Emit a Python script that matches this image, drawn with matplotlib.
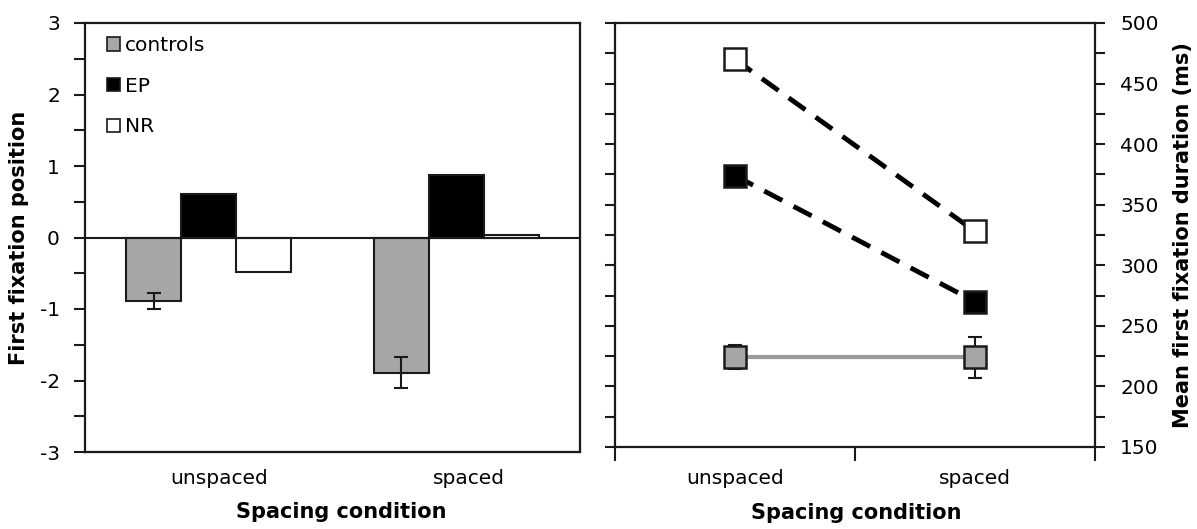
import matplotlib
matplotlib.use("Agg")
import matplotlib.pyplot as plt
from matplotlib.patches import Patch
from matplotlib.ticker import MultipleLocator, FixedLocator, NullFormatter

plt.rcParams["font.family"] = ["DejaVu Sans"]

# ---- data -------------------------------------------------------------
categories = ["unspaced", "spaced"]
groups = ["controls", "EP", "NR"]

# first fixation position (letters)
position_controls = [-0.89, -1.89]
position_controls_err = [0.11, 0.22]
position_ep = [0.61, 0.88]
position_nr = [-0.48, 0.04]

# mean first fixation duration (ms)
duration_controls = [224, 224]
duration_controls_err = [10, 17]
duration_ep = [374, 270]
duration_nr = [470, 328]

# ---- style --------------------------------------------------------------
GREY = "#a6a6a6"
LINE_GREY = "#9a9a9a"
INK = "#1a1a1a"
TICK_FS = 14.5
LABEL_FS = 15

W, H = 1197, 529
fig = plt.figure(figsize=(W / 100, H / 100), dpi=100)
ax1 = fig.add_axes([85 / W, 1 - 452 / H, 495 / W, 429 / H])
ax2 = fig.add_axes([615 / W, 1 - 447 / H, 480 / W, 424 / H])

for ax in (ax1, ax2):
    for s in ax.spines.values():
        s.set_linewidth(1.6)
        s.set_color(INK)

# ---- left panel: grouped bars ------------------------------------------
bar_w = 0.222
centers = [0.5, 1.5]
fills = [GREY, "black", "white"]
series = [position_controls, position_ep, position_nr]
for k, (vals, fc) in enumerate(zip(series, fills)):
    xs = [c + (k - 1) * bar_w for c in centers]
    ax1.bar(xs, vals, width=bar_w, color=fc, edgecolor=INK, linewidth=1.5,
            zorder=2)
ctrl_x = [c - bar_w for c in centers]
ax1.errorbar(ctrl_x, position_controls, yerr=position_controls_err,
             fmt="none", ecolor=INK, elinewidth=1.5, capsize=5, capthick=1.5,
             zorder=3)
ax1.axhline(0, color=INK, linewidth=1.5, zorder=3)

ax1.set_xlim(0, 2)
ax1.set_ylim(-3, 3)
ax1.yaxis.set_minor_locator(MultipleLocator(0.5))
ax1.set_yticks(range(-3, 4))
ax1.set_yticklabels([str(v) for v in range(-3, 4)])
ax1.tick_params(axis="y", which="both", direction="out", length=8, width=1.5,
                color=INK, labelsize=TICK_FS, pad=10)
ax1.set_xticks([0.54, 1.55])
ax1.set_xticklabels(categories)
ax1.tick_params(axis="x", length=0, labelsize=TICK_FS, pad=12)

handles = [Patch(facecolor=fc, edgecolor=INK, linewidth=1.2) for fc in fills]
ax1.legend(handles, groups, loc="upper left", bbox_to_anchor=(0.02, 0.998),
           frameon=False, fontsize=TICK_FS, handlelength=0.65,
           handleheight=0.65, handletextpad=0.25, labelspacing=1.08,
           borderaxespad=0.2)

# ---- right panel: line plot --------------------------------------------
xpos = [0.5, 1.5]
ax2.plot(xpos, duration_controls, color=LINE_GREY, linewidth=3, zorder=2)
ax2.plot(xpos, duration_ep, color="black", linewidth=3.5,
         dashes=(4.2, 2.6), dash_capstyle="butt", zorder=2)
ax2.plot(xpos, duration_nr, color="black", linewidth=3.5,
         dashes=(4.2, 2.6), dash_capstyle="butt", zorder=2)
ax2.errorbar(xpos, duration_controls, yerr=duration_controls_err, fmt="none",
             ecolor=INK, elinewidth=1.5, capsize=5, capthick=1.5, zorder=3)
mk = dict(marker="s", markersize=16, markeredgewidth=1.8,
          markeredgecolor=INK, linestyle="none", zorder=4)
ax2.plot(xpos, duration_controls, markerfacecolor=GREY, **mk)
ax2.plot(xpos, duration_ep, markerfacecolor="black", **mk)
ax2.plot(xpos, duration_nr, markerfacecolor="white", **mk)

ax2.set_xlim(0, 2)
ax2.set_ylim(150, 500)
ax2.xaxis.set_major_locator(FixedLocator([0, 1, 2]))
ax2.xaxis.set_major_formatter(NullFormatter())
ax2.xaxis.set_minor_locator(FixedLocator(xpos))
ax2.set_xticklabels(categories, minor=True)
ax2.tick_params(axis="x", which="major", direction="out", length=10,
                width=1.5, color=INK)
ax2.tick_params(axis="x", which="minor", length=0, labelsize=TICK_FS, pad=16)

ax2.yaxis.set_major_locator(MultipleLocator(50))
ax2.yaxis.set_minor_locator(MultipleLocator(25))
ax2.tick_params(axis="y", which="both", direction="out", length=7, width=1.5,
                color=INK, left=True, right=True, labelleft=False,
                labelright=True, labelsize=TICK_FS, pad=11)

# ---- axis titles ----------------------------------------------------------
bold = dict(fontsize=LABEL_FS, fontweight="bold", ha="center", va="center")
fig.text(341 / W, 1 - 512 / H, "Spacing condition", **bold)
fig.text(856 / W, 1 - 513 / H, "Spacing condition", **bold)
fig.text(19 / W, 1 - 238 / H, "First fixation position", rotation=90, **bold)
fig.text(1183 / W, 1 - 235 / H, "Mean first fixation duration (ms)",
         rotation=90, **bold)

fig.savefig("out.png", dpi=100)
